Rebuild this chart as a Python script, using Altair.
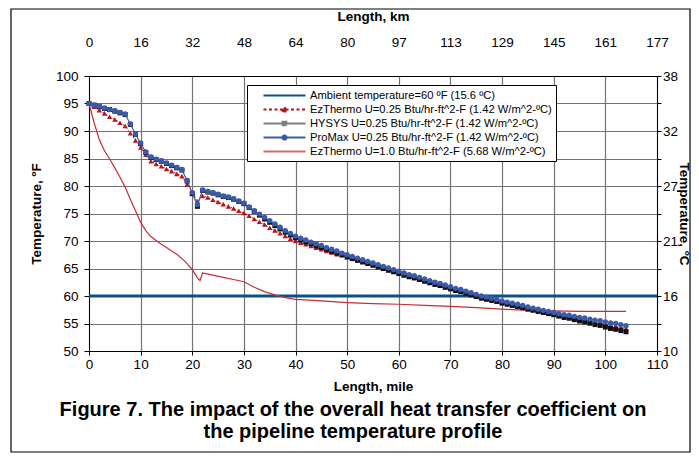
import altair as alt
import pandas as pd

# ---------------- data ----------------
miles = list(range(0, 105))

promax_temp = [95.0, 94.7, 94.5, 94.2, 93.9, 93.7, 93.4, 93.1, 91.3, 89.5,
               87.8, 86.2, 85.3, 84.9, 84.6, 84.2, 83.8, 83.4, 83.0, 81.0,
               78.8, 76.6, 79.3, 79.0, 78.8, 78.5, 78.2, 78.0, 77.7, 77.3,
               76.9, 76.2, 75.5, 74.9, 74.3, 73.7, 73.1, 72.5, 71.9, 71.4,
               70.9, 70.5, 70.2, 69.8, 69.5, 69.2, 68.8, 68.5, 68.2, 67.8,
               67.5, 67.2, 66.9, 66.6, 66.3, 66.0, 65.7, 65.4, 65.1, 64.8,
               64.5, 64.2, 63.9, 63.7, 63.4, 63.1, 62.8, 62.5, 62.3, 62.0,
               61.7, 61.4, 61.2, 60.9, 60.6, 60.3, 60.0, 59.8, 59.6, 59.4,
               59.1, 58.9, 58.7, 58.5, 58.3, 58.0, 57.8, 57.6, 57.4, 57.2,
               57.0, 56.8, 56.6, 56.5, 56.3, 56.1, 56.0, 55.8, 55.6, 55.5,
               55.3, 55.1, 55.0, 54.8, 54.6]

hysys_temp = [95.0, 94.7, 94.4, 94.1, 93.9, 93.6, 93.3, 93.0, 91.2, 89.4,
              87.7, 86.1, 85.2, 84.8, 84.5, 84.1, 83.7, 83.3, 82.9, 80.9,
              78.6, 76.3, 79.2, 78.9, 78.7, 78.4, 78.1, 77.9, 77.6, 77.2,
              76.8, 76.1, 75.4, 74.7, 74.0, 73.4, 72.8, 72.2, 71.6, 71.1,
              70.6, 70.2, 69.8, 69.5, 69.1, 68.8, 68.5, 68.1, 67.8, 67.5,
              67.1, 66.8, 66.5, 66.2, 65.9, 65.6, 65.3, 65.0, 64.7, 64.4,
              64.1, 63.8, 63.5, 63.3, 63.0, 62.7, 62.4, 62.1, 61.9, 61.6,
              61.3, 61.0, 60.8, 60.5, 60.2, 59.9, 59.6, 59.4, 59.2, 59.0,
              58.7, 58.5, 58.3, 58.1, 57.9, 57.6, 57.4, 57.2, 57.0, 56.8,
              56.6, 56.35, 56.1, 55.95, 55.7, 55.45, 55.3, 55.05, 54.8, 54.65,
              54.35, 54.1, 53.95, 53.7, 53.5]

ez025_temp = [95.0, 94.4, 93.8, 93.2, 92.6, 92.1, 91.5, 90.9, 89.6, 88.3,
              87.0, 85.7, 84.5, 84.0, 83.6, 83.1, 82.7, 82.2, 81.8, 80.3,
              78.8, 77.2, 78.2, 77.9, 77.5, 77.1, 76.7, 76.3, 75.9, 75.5,
              75.1, 74.6, 74.0, 73.5, 73.0, 72.4, 71.9, 71.4, 70.9, 70.4,
              70.0, 69.7, 69.4, 69.1, 68.8, 68.5, 68.2, 67.9, 67.6, 67.4,
              67.1, 66.8, 66.5, 66.2, 65.9, 65.6, 65.3, 65.0, 64.7, 64.4,
              64.1, 63.8, 63.6, 63.3, 63.0, 62.7, 62.5, 62.2, 61.9, 61.6,
              61.4, 61.1, 60.8, 60.6, 60.3, 60.0, 59.8, 59.5, 59.3, 59.0,
              58.8, 58.6, 58.3, 58.1, 57.9, 57.7, 57.5, 57.3, 57.1, 56.9,
              56.7, 56.5, 56.3, 56.1, 55.9, 55.7, 55.6, 55.4, 55.2, 55.0,
              54.8, 54.6, 54.5, 54.3, 54.1]

ez10_miles = [0, 1, 2, 3, 4, 5, 6, 7, 8, 9, 10, 11, 12, 13, 14, 15, 16, 17, 18,
              19, 20, 21, 21.5, 22, 24, 26, 28, 30, 32, 34, 36, 38, 40, 45, 50,
              55, 60, 65, 70, 75, 80, 85, 90, 95, 100, 104]
ez10_temp = [95.0, 91.5, 88.4, 86.4, 84.9, 83.3, 81.6, 79.8, 77.6, 75.5, 73.4,
             71.9, 70.8, 70.1, 69.4, 68.8, 68.2, 67.6, 66.8, 65.9, 64.8, 63.3,
             62.8, 64.2, 63.8, 63.4, 63.0, 62.6, 61.6, 60.8, 60.2, 59.7, 59.4,
             59.1, 58.8, 58.6, 58.5, 58.3, 58.1, 57.9, 57.6, 57.4, 57.3, 57.2,
             57.2, 57.2]

ambient_miles = [0, 110]
ambient_temp = [60, 60]

x_ticks = [0, 10, 20, 30, 40, 50, 60, 70, 80, 90, 100, 110]
km_labels = ["0", "16", "32", "48", "64", "80", "97", "113", "129", "145", "161", "177"]
y_ticks = [50, 55, 60, 65, 70, 75, 80, 85, 90, 95, 100]
c_labels = ["10", "16", "21", "27", "32", "38"]

series_names = [
    "Ambient temperature=60 \u00baF (15.6 \u00baC)",
    "EzThermo U=0.25 Btu/hr-ft^2-F (1.42 W/m^2-\u00baC)",
    "HYSYS U=0.25 Btu/hr-ft^2-F (1.42 W/m^2-\u00baC)",
    "ProMax U=0.25 Btu/hr-ft^2-F (1.42 W/m^2-\u00baC)",
    "EzThermo U=1.0 Btu/hr-ft^2-F (5.68 W/m^2-\u00baC)",
]
line_colors = ["#0b5089", "#b3161f", "#808080", "#3a5aab", "#d06a6e"]
fill_colors = ["#0b5089", "#b3161f", "#111111", "#3a5aab", "#d06a6e"]
# legend glyphs: a long line with the series marker in its middle
legend_shapes = [
    "M1.2,0H9.6",
    "M1.2,0H9.6M4.9,0.4L5.4,-0.5L5.9,0.4Z",
    "M1.2,0H9.6M5.05,-0.35H5.75V0.35H5.05Z",
    "M1.2,0H9.6M5.8,0A0.4,0.4 0 1,1 5.0,0A0.4,0.4 0 1,1 5.8,0Z",
    "M1.2,0H9.6",
]
legend_dashes = [[1, 0], [3, 2.5], [1, 0], [1, 0], [1, 0]]

# ---------------- frames ----------------
df_pm = pd.DataFrame({"mile": miles, "temp": promax_temp})
df_hy = pd.DataFrame({"mile": miles, "temp": hysys_temp})
df_ez = pd.DataFrame({"mile": miles, "temp": ez025_temp})
df_e1 = pd.DataFrame({"mile": ez10_miles, "temp": ez10_temp})
df_am = pd.DataFrame({"mile": ambient_miles, "temp": ambient_temp})
df_leg = pd.DataFrame({"series": series_names})

FONT = "Liberation Sans"
PLOT_W = 568
PLOT_H = 275
xscale = alt.Scale(domain=[0, 110], nice=False, zero=False)
yscale = alt.Scale(domain=[50, 100], nice=False, zero=False)

common_axis = dict(domainColor="black", domainWidth=1, tickColor="black",
                   labelFont=FONT, labelFontSize=13.5, labelColor="black",
                   titleFont=FONT, titleFontSize=13.5, titleFontWeight="bold",
                   titleColor="black", labelFlush=False, labelOverlap=False)

x_bottom = alt.X("mile:Q", scale=xscale, axis=alt.Axis(
    orient="bottom", values=x_ticks, title="Length, mile", grid=True,
    gridColor="#737373", gridWidth=1.2, tickSize=4, labelPadding=2.5,
    titlePadding=8, **common_axis))
y_left = alt.Y("temp:Q", scale=yscale, axis=alt.Axis(
    orient="left", values=y_ticks, title="Temperature, \u00baF", grid=True,
    gridColor="#737373", gridWidth=1.2, tickSize=5, labelPadding=6,
    titlePadding=12, **common_axis))

km_expr = "[" + ",".join("'%s'" % k for k in km_labels) + "][round(datum.value / 10)]"
c_expr = ("datum.value % 10 == 0 ? [" + ",".join("'%s'" % c for c in c_labels)
          + "][round((datum.value - 50) / 10)] : ''")

x_top = alt.X("mile:Q", scale=xscale, axis=alt.Axis(
    orient="top", values=x_ticks, labelExpr=km_expr, title="Length, km",
    grid=False, ticks=False, labelPadding=27, titlePadding=12, **common_axis))
y_right = alt.Y("temp:Q", scale=yscale, axis=alt.Axis(
    orient="right", values=y_ticks, labelExpr=c_expr, title="Temperature, \u00baC",
    grid=False, tickSize=4, labelPadding=1.5, titleAngle=90, titleAlign="center",
    titleBaseline="middle", titleX=26.5, titleY=PLOT_H / 2, **common_axis))

xn = alt.X("mile:Q", scale=xscale, axis=None)
yn = alt.Y("temp:Q", scale=yscale, axis=None)

ambient = alt.Chart(df_am).mark_line(color=line_colors[0], strokeWidth=3).encode(x=x_bottom, y=y_left)
ez10 = alt.Chart(df_e1).mark_line(color="#c42f36", strokeWidth=1.2).encode(x=x_top, y=y_right)
ez_line = alt.Chart(df_ez).mark_line(color=line_colors[1], strokeWidth=1, strokeDash=[2, 2]).encode(x=xn, y=yn)
ez_pts = alt.Chart(df_ez).mark_point(shape="triangle-up", filled=True, opacity=1,
                                     color=fill_colors[1], size=28).encode(x=xn, y=yn)
hy_line = alt.Chart(df_hy).mark_line(color=line_colors[2], strokeWidth=1).encode(x=xn, y=yn)
hy_pts = alt.Chart(df_hy).mark_point(shape="square", filled=True, opacity=1,
                                     color=fill_colors[2], size=25).encode(x=xn, y=yn)
pm_line = alt.Chart(df_pm).mark_line(color=line_colors[3], strokeWidth=1).encode(x=xn, y=yn)
pm_pts = alt.Chart(df_pm).mark_point(shape="circle", filled=True, opacity=1,
                                     color=fill_colors[3], size=28).encode(x=xn, y=yn)

legend_layer = alt.Chart(df_leg).mark_point(filled=True, opacity=1, size=100).encode(
    fill=alt.Fill("series:N", scale=alt.Scale(domain=series_names, range=fill_colors),
                  legend=alt.Legend(title=None)),
    stroke=alt.Stroke("series:N", scale=alt.Scale(domain=series_names, range=line_colors),
                      legend=alt.Legend(title=None)),
    shape=alt.Shape("series:N", scale=alt.Scale(domain=series_names, range=legend_shapes),
                    legend=alt.Legend(title=None)),
    strokeDash=alt.StrokeDash("series:N", scale=alt.Scale(domain=series_names, range=legend_dashes),
                              legend=alt.Legend(title=None)),
).transform_filter("false")

frame = alt.Chart(alt.Data(values=[{"k": 1}])).mark_rect(
    fillOpacity=0, stroke="black", strokeWidth=1.2
).encode(x=alt.value(-78), x2=alt.value(601), y=alt.value(-67), y2=alt.value(376))

chart = alt.layer(
    ambient, ez10, ez_line, ez_pts, hy_line, hy_pts, pm_line, pm_pts, legend_layer, frame
).resolve_axis(x="independent", y="independent").properties(
    width=PLOT_W, height=PLOT_H,
    background="white",
    autosize=alt.AutoSizeParams(type="none"),
    padding={"left": 81, "top": 68, "right": 34, "bottom": 102},
    title=alt.TitleParams(
        text=["Figure 7. The impact of the overall heat transfer coefficient on",
              "the pipeline temperature profile"],
        orient="bottom", anchor="middle", frame="group", dx=-20, font=FONT,
        fontSize=20, fontWeight="bold", color="black", offset=-53, lineHeight=22),
).configure_view(stroke=None).configure_legend(
    orient="none", legendX=158, legendY=9, fillColor="white", strokeColor="black",
    padding=4, labelFont=FONT, labelFontSize=11.2, labelColor="black", labelLimit=400,
    symbolSize=100, symbolStrokeWidth=2.2, labelOffset=46,
    rowPadding=1, symbolOpacity=1,
)

chart.save("out.html", embed_options={"renderer": "svg", "actions": False})
